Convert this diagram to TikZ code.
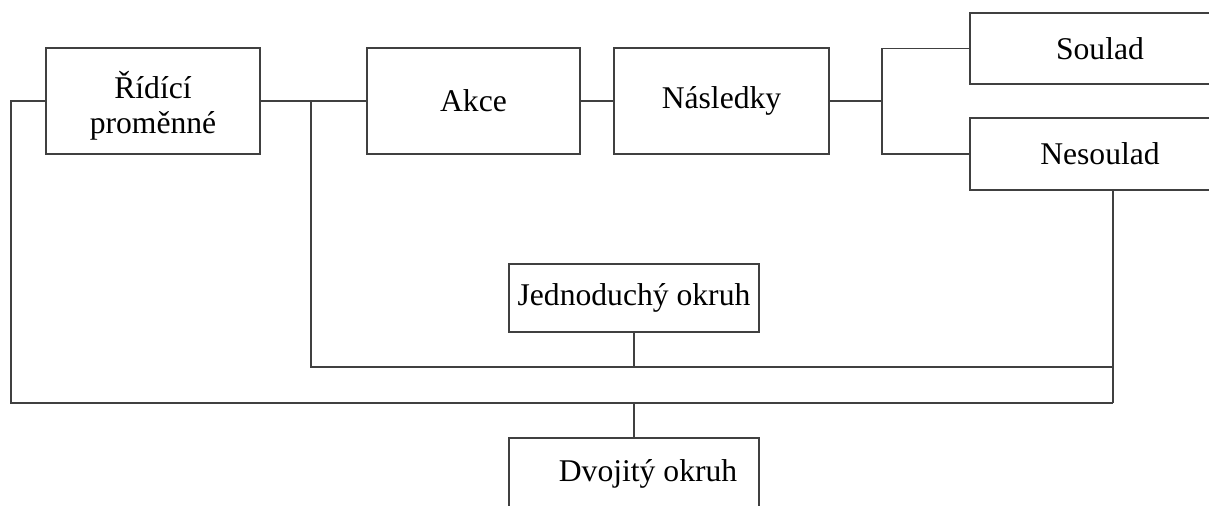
\documentclass[tikz,border=0pt]{standalone}
\usepackage{fontspec}
\setmainfont{Liberation Serif}
\usepackage{tikz}
\usetikzlibrary{positioning, calc}

\tikzset{
    block/.style={draw=black!75, line width=0.9pt, align=center,
                  inner sep=0pt, font=\fontsize{18}{20}\selectfont},
    wire/.style={draw=black!75, line width=0.9pt}
}

\begin{document}
\begin{tikzpicture}[x=0.02cm, y=-0.02cm]

    % Fixing the page to the reference size
    \useasboundingbox (0,0) rectangle (1209,505);

    % Top row of blocks
    \node[block, minimum width=4.28cm, minimum height=2.12cm] (ridici) at (153,101) {\rule{0pt}{21pt}Řídící\\proměnné};
    \node[block, minimum width=4.26cm, minimum height=2.12cm] (akce) at (473.5,101) {Akce};
    \node[block, minimum width=4.30cm, minimum height=2.12cm] (nasledky) at (721.5,101) {Následky\strut};

    % Outcome blocks on the right, cut by the page edge
    \node[block, minimum width=5.2cm, minimum height=1.42cm] (soulad) at (1100,48.5) {Soulad};
    \node[block, minimum width=5.2cm, minimum height=1.44cm] (nesoulad) at (1100,154) {Nesoulad};

    % Loop blocks at the bottom
    \node[block, minimum width=5cm, minimum height=1.36cm] (jedno) at (634,298) {Jednoduchý okruh\strut};
    \node[block, minimum width=5cm, minimum height=1.44cm] (dvoj) at (634,474) {\hspace{16pt}Dvojitý okruh\strut};

    % Junction points of the wiring
    \coordinate (split) at (311,101);
    \coordinate (fork) at (882,101);
    \coordinate (back) at (1113,190);
    \coordinate (inner) at (1113,367);
    \coordinate (outer) at (1113,403);
    \coordinate (left) at (11,403);

    % Main chain
    \draw[wire] (ridici.east) -- (akce.west);
    \draw[wire] (akce.east) -- (nasledky.west);
    \draw[wire] (nasledky.east) -- (fork);
    \draw[wire] (soulad.west) -| (fork) |- (nesoulad.west);

    % Feedback from Nesoulad down to both loops
    \draw[wire] (back) -- (outer);

    % Inner loop back to the actions
    \draw[wire] (split) |- (inner);
    \draw[wire] (jedno.south) -- (jedno.south |- inner);

    % Outer loop back to the control variables
    \draw[wire] (ridici.west) -| (left) -- (outer);
    \draw[wire] (dvoj.north) -- (dvoj.north |- outer);

\end{tikzpicture}
\end{document}
